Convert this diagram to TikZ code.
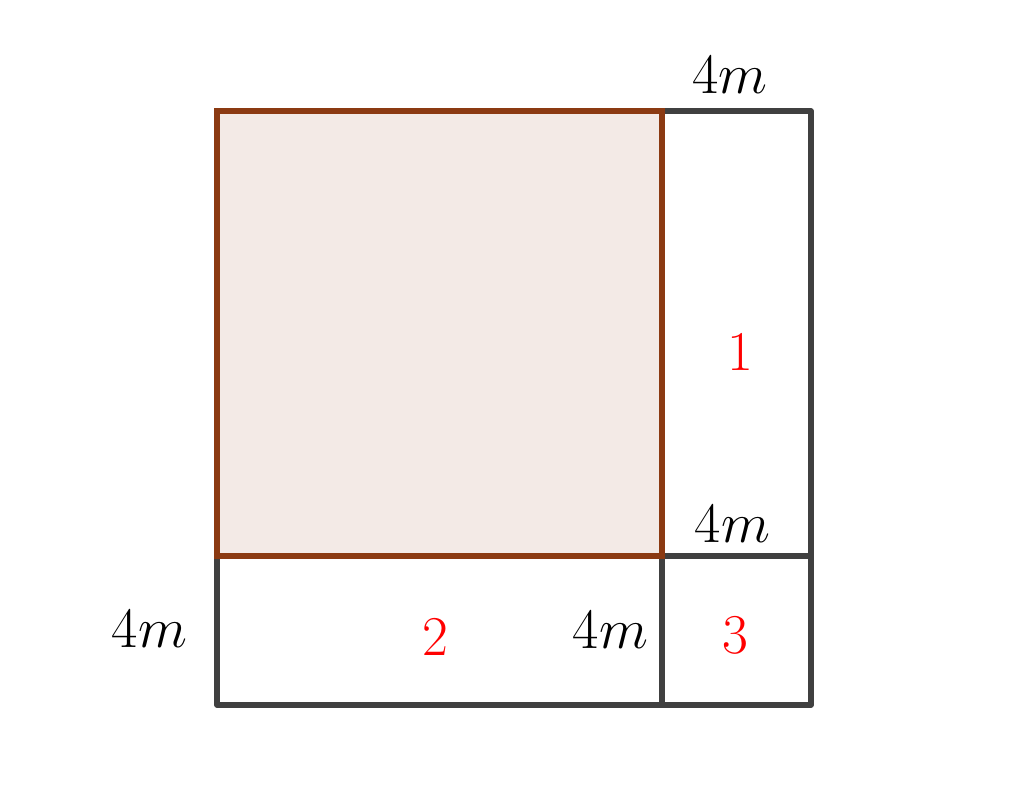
\RequirePackage{fix-cm}
\documentclass[tikz,border=0pt]{standalone}
\definecolor{sqbrown}{RGB}{139,58,18}
\definecolor{sqfill}{RGB}{243,234,230}
\definecolor{linegray}{RGB}{64,64,64}
\begin{document}
\begin{tikzpicture}[x=0.02cm,y=-0.02cm,
  gline/.style={draw=linegray,line width=0.105cm,line cap=round,line join=round},
  bline/.style={draw=sqbrown,fill=sqfill,line width=0.125cm,line join=miter},
  dimlbl/.style={anchor=base,inner sep=0pt,font=\fontsize{32.5}{38}\selectfont},
  numlbl/.style={anchor=base,inner sep=0pt,text=red,font=\fontsize{32}{38}\selectfont}]
\useasboundingbox (0,0) rectangle (1024,802);
\coordinate (A) at (217,111);
\coordinate (B) at (662,111);
\coordinate (C) at (811,111);
\coordinate (D) at (217,556);
\coordinate (E) at (662,556);
\coordinate (F) at (811,556);
\coordinate (G) at (217,705);
\coordinate (H) at (662,705);
\coordinate (I) at (811,705);
\draw[gline] (B) -- (C) -- (I) -- (G) -- (D);
\draw[gline] (E) -- (F);
\draw[gline] (E) -- (H);
\draw[bline] (A) rectangle (E);
\node[dimlbl] (t1) at (730,93) {$4m$};
\node[dimlbl] (t2) at (732.5,542) {$4m$};
\node[dimlbl] (t3) at (149.5,647) {$4m$};
\node[dimlbl] (t4) at (610.5,648) {$4m$};
\node[numlbl] (n1) at (740,370) {1};
\node[numlbl] (n2) at (435,655) {2};
\node[numlbl] (n3) at (735,653) {3};
\end{tikzpicture}
\end{document}
